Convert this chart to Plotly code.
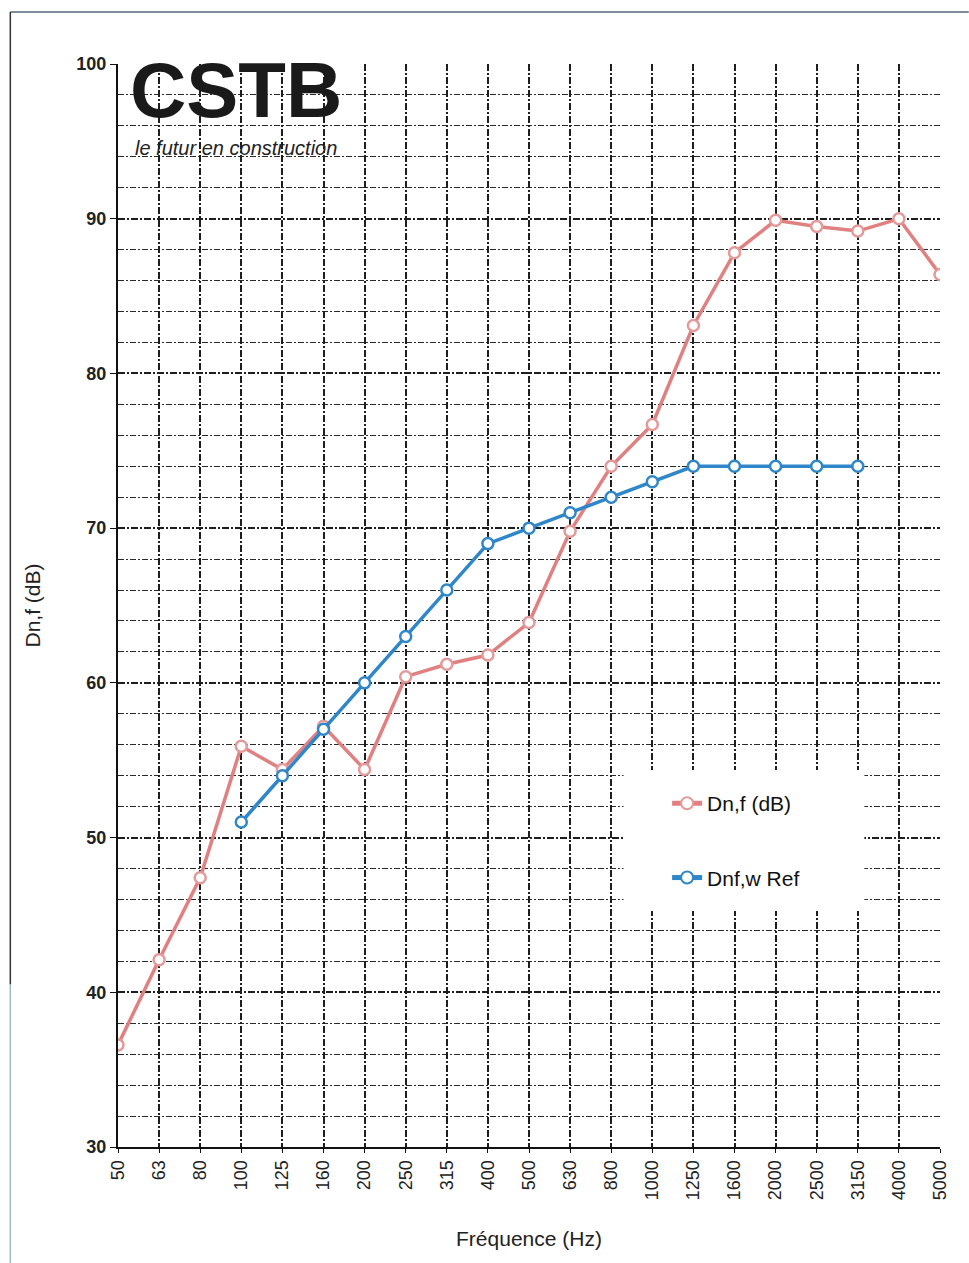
import plotly.graph_objects as go

freqs = ["50", "63", "80", "100", "125", "160", "200", "250", "315", "400", "500",
         "630", "800", "1000", "1250", "1600", "2000", "2500", "3150", "4000", "5000"]
dnf = [36.6, 42.1, 47.4, 55.9, 54.4, 57.2, 54.4, 60.4, 61.2, 61.8, 63.9,
       69.8, 74.0, 76.7, 83.1, 87.8, 89.9, 89.5, 89.2, 90.0, 86.4]
ref_freqs = ["100", "125", "160", "200", "250", "315", "400", "500", "630", "800",
             "1000", "1250", "1600", "2000", "2500", "3150"]
ref_vals = [51, 54, 57, 60, 63, 66, 69, 70, 71, 72, 73, 74, 74, 74, 74, 74]

fig = go.Figure()
fig.add_trace(go.Scatter(
    x=freqs, y=dnf, name="Dn,f (dB)", mode="lines+markers", legendgroup="a",
    line=dict(color="#e08080", width=3.5),
    marker=dict(symbol="circle", size=11, color="white",
                line=dict(color="#e39a9a", width=2.5)),
))
fig.add_trace(go.Scatter(
    x=ref_freqs, y=ref_vals, name="Dnf,w Ref", mode="lines+markers", legendgroup="b",
    line=dict(color="#2f86c8", width=3.5),
    marker=dict(symbol="circle", size=11, color="white",
                line=dict(color="#2f86c8", width=2.5)),
))

grid_col = "#1e1e1e"
fig.update_layout(
    width=969, height=1263,
    margin=dict(l=118, r=29, t=64, b=116),
    paper_bgcolor="white", plot_bgcolor="white",
    font=dict(family="Liberation Sans, Arial", color="#111111"),
    showlegend=True,
    legend=dict(x=0.668, y=0.336, xanchor="left", yanchor="top",
                bgcolor="white", borderwidth=0,
                font=dict(size=21, color="#111111"),
                traceorder="grouped", tracegroupgap=44,
                itemsizing="constant"),
    xaxis=dict(
        type="category", categoryorder="array", categoryarray=freqs,
        range=[0, 20], showgrid=True, gridcolor=grid_col, griddash="7px,2px,2px,2px",
        gridwidth=1.5, showline=True, linecolor="#111111", linewidth=2,
        tickangle=-90, tickfont=dict(size=18, color="#222222"),
        ticks="outside", ticklen=4, tickcolor="#111111",
        title=dict(text="Fréquence (Hz)", font=dict(size=21, color="#222222"), standoff=32),
        zeroline=False,
    ),
    yaxis=dict(
        range=[30, 100], dtick=10, showgrid=True, gridcolor=grid_col,
        griddash="7px,2px,2px,2px", gridwidth=1.8, showline=True, linecolor="#111111",
        linewidth=2, ticks="outside", ticklen=6, tickcolor="#111111",
        tickfont=dict(size=18, color="#222222"),
        tickprefix="<b>", ticksuffix="</b>",
        minor=dict(dtick=2, showgrid=True, gridcolor="#2a2a2a",
                   griddash="6px,2px,2px,2px", gridwidth=1.2),
        title=dict(text="Dn,f (dB)", font=dict(size=21, color="#222222"), standoff=30),
        zeroline=False,
    ),
)

# white backdrop for the legend area
fig.add_shape(type="rect", xref="paper", yref="paper", x0=0.615, x1=0.908,
              y0=0.218, y1=0.348, fillcolor="white", line=dict(width=0), layer="above")

# CSTB logo text
fig.add_annotation(x=0.012, y=0.976, xref="paper", yref="paper", xanchor="left",
                   yanchor="middle", text="<b>CSTB</b>", showarrow=False,
                   font=dict(size=78, color="#1a1a1a", family="Liberation Sans, Arial"))
fig.add_annotation(x=0.018, y=0.922, xref="paper", yref="paper", xanchor="left",
                   yanchor="middle", text="<i>le futur en construction</i>", showarrow=False,
                   font=dict(size=20, color="#222222", family="Liberation Sans, Arial"))

# page frame (scan border)
fig.add_shape(type="line", xref="paper", yref="paper", x0=-0.131, x1=1.035,
              y0=1.048, y1=1.048, line=dict(color="#556677", width=1.5))
fig.add_shape(type="line", xref="paper", yref="paper", x0=-0.131, x1=-0.131,
              y0=1.048, y1=0.15, line=dict(color="#333333", width=1.5))
fig.add_shape(type="line", xref="paper", yref="paper", x0=-0.131, x1=-0.131,
              y0=0.15, y1=-0.107, line=dict(color="#9fb8c8", width=1.5))

fig.write_html("out.html")
